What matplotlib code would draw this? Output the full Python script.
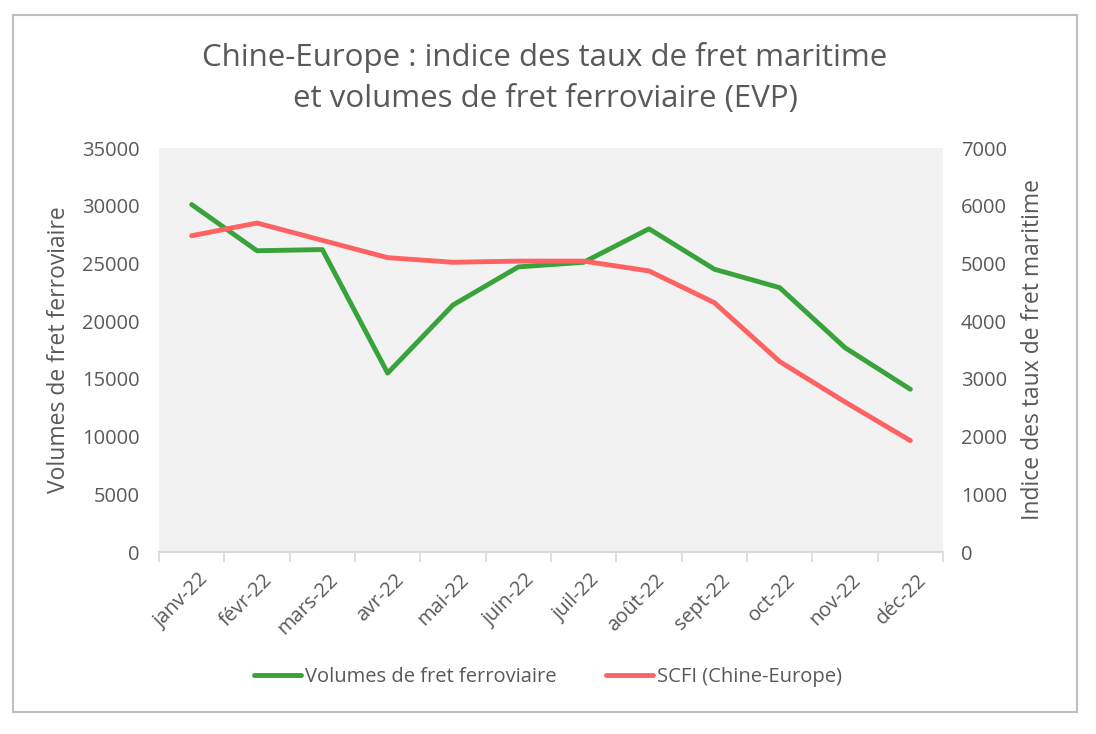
import matplotlib
matplotlib.use("Agg")
import matplotlib.pyplot as plt
from matplotlib.patches import Rectangle
from matplotlib.transforms import ScaledTranslation
import numpy as np

months = ["janv-22", "févr-22", "mars-22", "avr-22", "mai-22", "juin-22",
          "juil-22", "août-22", "sept-22", "oct-22", "nov-22", "déc-22"]
rail_volumes = [30100, 26100, 26200, 15500, 21400, 24700,
                25100, 28000, 24500, 22900, 17700, 14100]
scfi_index = [5480, 5700, 5400, 5100, 5020, 5040,
              5040, 4870, 4320, 3300, 2600, 1930]

title = "Chine-Europe : indice des taux de fret maritime\net volumes de fret ferroviaire (EVP)"
left_label = "Volumes de fret ferroviaire"
right_label = "Indice des taux de fret maritime"
legend_labels = ["Volumes de fret ferroviaire", "SCFI (Chine-Europe)"]

GREEN = "#38a33b"
RED = "#ff6262"
TXT = "#595959"

plt.rcParams['font.family'] = ['Open Sans', 'DejaVu Sans']

fig = plt.figure(figsize=(10.96, 7.34), dpi=100)
fig.patch.set_facecolor("white")
fig.add_artist(Rectangle((13/1096, 1 - 712/734), (1077-13)/1096, (712-15)/734,
                         transform=fig.transFigure, fill=False,
                         edgecolor="#bfbfbf", linewidth=1.5))

ax = fig.add_axes([159/1096, 1 - 552/734, (943-159)/1096, (552-148)/734])
ax.set_facecolor("#f2f2f2")
x = np.arange(len(months))
l1, = ax.plot(x, rail_volumes, color=GREEN, linewidth=3.5, solid_capstyle="round",
              solid_joinstyle="round")
ax.set_xlim(-0.5, len(months) - 0.5)
ax.set_ylim(0, 35000)
ax.set_yticks(np.arange(0, 35001, 5000))
for s in ["top", "right", "left"]:
    ax.spines[s].set_visible(False)
ax.spines["bottom"].set_color("#d9d9d9")
ax.spines["bottom"].set_linewidth(1.5)
ax.tick_params(axis="y", length=0, pad=14, labelsize=14.5, labelcolor=TXT)
ax.set_xticks(np.arange(-0.5, len(months), 1.0))
ax.set_xticklabels([])
ax.tick_params(axis="x", which="major", length=7, color="#d9d9d9", width=1.2)
ax.set_xticks(x, minor=True)
ax.set_xticklabels(months, minor=True, rotation=45, ha="right",
                   rotation_mode="anchor", fontsize=14.5, color=TXT)
ax.tick_params(axis="x", which="minor", length=0, pad=13)
offset = ScaledTranslation(6/100, 0, fig.dpi_scale_trans)
for lab in ax.get_xticklabels(minor=True):
    lab.set_transform(lab.get_transform() + offset)
ax.set_ylabel(left_label, fontsize=16.5, color=TXT, labelpad=8)

ax2 = ax.twinx()
l2, = ax2.plot(x, scfi_index, color=RED, linewidth=3.5, solid_capstyle="round",
               solid_joinstyle="round")
ax2.set_ylim(0, 7000)
ax2.set_yticks(np.arange(0, 7001, 1000))
for s in ["top", "right", "left", "bottom"]:
    ax2.spines[s].set_visible(False)
ax2.tick_params(axis="y", length=0, pad=13, labelsize=14.5, labelcolor=TXT)
ax2.set_ylabel(right_label, fontsize=16.5, color=TXT, labelpad=10)

fig.text(545/1096, 1 - 78/734, title, ha="center", va="center", fontsize=22.5,
         color=TXT, linespacing=1.45)

fig.legend([l1, l2], legend_labels, loc="center", bbox_to_anchor=(548/1096, 1 - 677/734),
           ncol=2, frameon=False, fontsize=14.5, labelcolor=TXT, handlelength=2.3,
           handletextpad=0.2, columnspacing=2.5)

fig.savefig("out.png", dpi=100, facecolor="white")
